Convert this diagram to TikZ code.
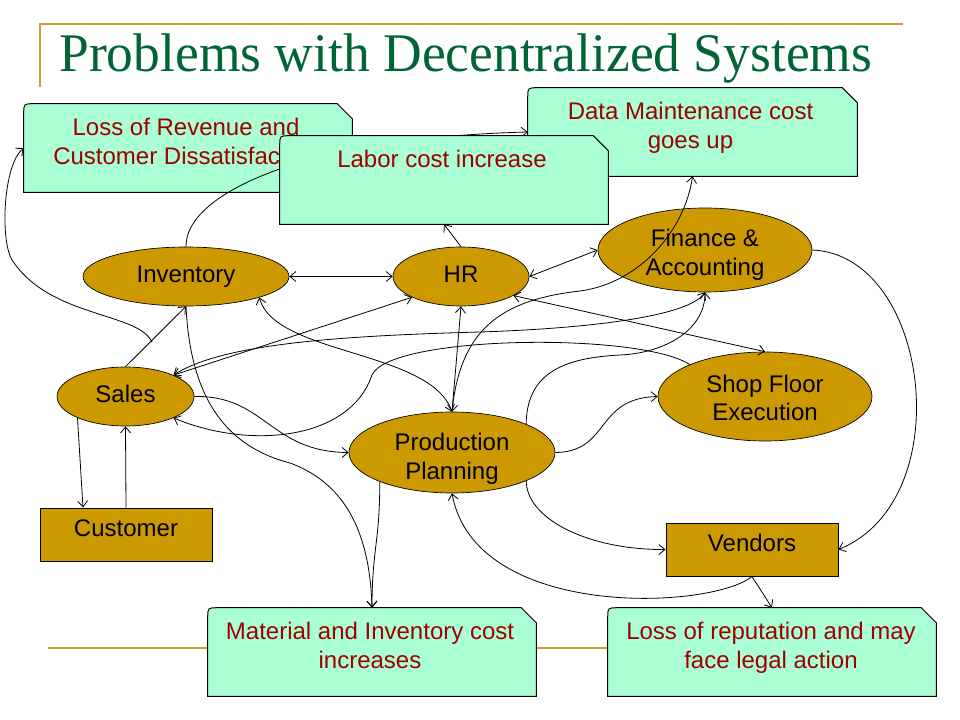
\documentclass[tikz,border=0pt]{standalone}
\usepackage{fontspec}
\usepackage{graphicx}
\newfontfamily\arialf{Liberation Sans}
\newfontfamily\titlef{Liberation Serif}
\usetikzlibrary{shapes.geometric,arrows.meta,calc}
\definecolor{goldfill}{RGB}{204,153,0}
\definecolor{mintfill}{RGB}{170,255,212}
\definecolor{redtext}{RGB}{160,0,0}
\definecolor{titlegreen}{RGB}{0,100,55}
\definecolor{goldline}{RGB}{200,160,48}
\newcommand\mynodefont{\arialf\fontsize{18}{21.75}\selectfont}
\newcommand\mintshape[1]{%
  \filldraw[mintdraw] (#1.south west) -- ([yshift=-7.5pt]#1.north west)
    .. controls (#1.north west) .. ([xshift=7.5pt]#1.north west)
    -- ([xshift=-11.25pt]#1.north east) -- ([yshift=-11.25pt]#1.north east)
    -- (#1.south east) -- cycle;}
\begin{document}
\begin{tikzpicture}[x=0.75pt,y=-0.75pt,
  goldell/.style={ellipse, draw=black, line width=0.5pt, fill=goldfill, inner sep=0pt, align=center, text height=13pt, text depth=4pt, font=\mynodefont},
  elltext/.style={anchor=base, inner sep=0pt, font=\mynodefont},
  goldrect/.style={rectangle, draw=black, line width=0.75pt, fill=goldfill, inner xsep=0pt, inner ysep=0pt, minimum width=129pt, text height=21pt, text depth=18.75pt, font=\mynodefont},
  mintarea/.style={rectangle, inner sep=0pt, minimum height=66pt},
  mintdraw/.style={fill=mintfill, draw=black, line width=0.75pt},
  minttext/.style={anchor=base, inner sep=0pt, text=redtext, font=\mynodefont},
  goldrule/.style={draw=goldline, line width=1.5pt},
  conn/.style={draw=black, line width=0.6pt},
  >={Straight Barb[length=4.5pt,width=7.5pt]}]
\useasboundingbox (0,0) rectangle (960,720);
\fill[white] (0,0) rectangle (960,720);

% rules and title
\draw[goldrule] (40,87) -- (40,24) -- (903,24);
\draw[goldrule] (48,648) -- (920,648);
\node[anchor=base west, inner sep=0pt, text=titlegreen] (title) at (59,72)
  {\resizebox{609.75pt}{\height}{\titlef\fontsize{40.8}{40.8}\selectfont Problems with Decentralized Systems}};

% gold nodes
\node[goldell, minimum width=154.5pt, minimum height=44.25pt] (inv) at (186,276.5) {Inventory};
\node[goldell, minimum width=102pt, minimum height=44.25pt] (hr) at (461,276.5) {HR};
\node[goldell, minimum width=160.5pt, minimum height=63pt] (fin) at (705,250) {};
\node[elltext] (fint1) at (705,247) {Finance \&};
\node[elltext] (fint2) at (705,276) {Accounting};
\node[goldell, minimum width=102.75pt, minimum height=44.25pt] (sales) at (125.5,396.5) {Sales};
\node[goldell, minimum width=154.5pt, minimum height=60.75pt] (pp) at (452,452.5) {};
\node[elltext] (ppt1) at (452,450.5) {Production};
\node[elltext] (ppt2) at (452,479.5) {Planning};
\node[goldell, minimum width=160.5pt, minimum height=66.75pt] (sfe) at (765,396.5) {};
\node[elltext] (sfet1) at (765,392) {Shop Floor};
\node[elltext] (sfet2) at (765,420.5) {Execution};
\node[goldrect] (cust) at (126,534.5) {Customer};
\node[goldrect] (vend) at (752,549.5) {Vendors};

% mint boxes (top)
\node[mintarea, minimum width=246pt] (lor) at (188,148) {};
\mintshape{lor}
\node[minttext] (lort1) at ([xshift=-1.5pt,yshift=-24pt]lor.north) {Loss of Revenue and};
\node[minttext] (lort2) at ([xshift=-1.5pt,yshift=-45.75pt]lor.north) {Customer Dissatisfaction};

\node[mintarea, minimum width=246.75pt] (dm) at (692.5,132) {};
\mintshape{dm}
\node[minttext] (dmt1) at ([xshift=-1.5pt,yshift=-24pt]dm.north) {Data Maintenance cost};
\node[minttext] (dmt2) at ([xshift=-1.5pt,yshift=-45.75pt]dm.north) {goes up};

\draw[conn,->] (inv.north) .. controls (185,195) and (300,138) .. (dm.west);

\node[mintarea, minimum width=246pt] (lab) at (444,180) {};
\mintshape{lab}
\node[minttext] (labt1) at ([xshift=-1.5pt,yshift=-24pt]lab.north) {Labor cost increase};

% mint boxes (bottom)
\node[mintarea, minimum width=246pt] (mat) at (372,652) {};
\mintshape{mat}
\node[minttext] (matt1) at ([xshift=-1.5pt,yshift=-24pt]mat.north) {Material and Inventory cost};
\node[minttext] (matt2) at ([xshift=-1.5pt,yshift=-45.75pt]mat.north) {increases};

\node[mintarea, minimum width=246pt] (rep) at (772,652) {};
\mintshape{rep}
\node[minttext] (rept1) at ([xshift=-0.75pt,yshift=-24pt]rep.north) {Loss of reputation and may};
\node[minttext] (rept2) at ([xshift=-0.75pt,yshift=-45.75pt]rep.north) {face legal action};

% connectors
\draw[conn,<->] (inv.east) -- (hr.west);
\draw[conn,->] (hr.north) -- (lab.south);
\draw[conn,<->] (hr.east) -- (fin.west);
\draw[conn,<->] (hr.south) -- (pp.north);
\draw[conn,<->] (inv.-16) .. controls (275,355) and (430,350) .. (pp.north);
\draw[conn,->] (sales.north) -- (inv.south);
\draw[conn,<->] (sales.24) -- (hr.203);
\draw[conn,<->] (sales.24) .. controls (220,345) and (330,336) .. (480,332)
  .. controls (600,328) and (690,315) .. (fin.south);
\draw[conn,->] (sfe.157) .. controls (640,332) and (390,335) .. (372,375)
  .. controls (350,440) and (250,450) .. (sales.-24);
\draw[conn,->] (pp.21) .. controls (527,375) and (560,358) .. (620,355)
  .. controls (665,353) and (705,330) .. (fin.south);
\draw[conn,->] (pp.east) .. controls (610,452) and (595,398) .. (sfe.west);
\draw[conn,->] (sales.east) .. controls (265,395) and (270,452) .. (pp.west);
\draw[conn,->] (inv.south) .. controls (190,390) and (220,445) .. (290,463)
  .. controls (350,485) and (370,540) .. (mat.north);
\draw[conn,->] (pp.202) .. controls (380,540) and (372,550) .. (mat.north);
\draw[conn,->] (vend.south) -- (rep.north);
\draw[conn,->] (vend.south) .. controls (710,610) and (475,620) .. (pp.south);
\draw[conn,->] (pp.-21) .. controls (527,520) and (590,550) .. (vend.west);
\draw[conn,->] (fin.east) .. controls (930,255) and (960,500) .. (vend.east);
\draw[conn,->] (sales.204) -- ([xshift=-32.25pt]cust.north);
\draw[conn,->] (cust.north) -- (sales.south);
\coordinate (revtail) at (152,342);
\draw[conn,->] (revtail) .. controls (138,312) and (50,318) .. (12,260)
  .. controls (0,240) and (3,165) .. (lor.west);
\draw[conn,->] (pp.north) .. controls (460,330) and (500,300) .. (580,291)
  .. controls (640,283) and (685,230) .. (dm.south);
\draw[conn,<->] (hr.-20) -- (sfe.north);
\end{tikzpicture}
\end{document}
